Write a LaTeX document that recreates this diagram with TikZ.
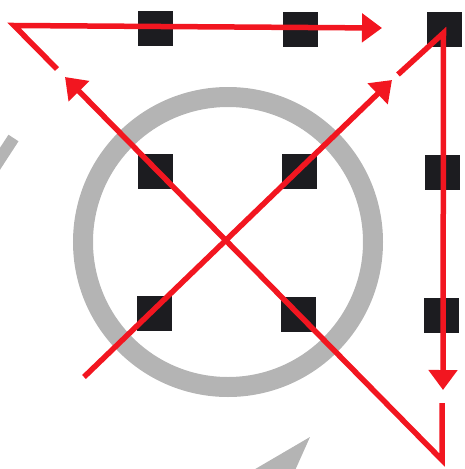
\documentclass[tikz,border=0pt]{standalone}
\usetikzlibrary{arrows.meta}
\definecolor{redline}{RGB}{242,22,32}
\definecolor{ringgray}{RGB}{180,180,180}
\definecolor{sqblack}{RGB}{28,28,32}
\begin{document}
\begin{tikzpicture}[x=1pt,y=-1pt,
  dot/.style={fill=sqblack, minimum size=35pt, inner sep=0pt, draw=none},
  redpath/.style={draw=redline, line width=5.5pt, line join=miter},
  redarrow/.style={redpath, -{Triangle[length=20pt,width=28pt]}},
  ring/.style={draw=ringgray, line width=20pt},
  ghost/.style={fill=ringgray, draw=none}]
\useasboundingbox (0,0) rectangle (464,469);
\clip (0,0) rectangle (464,469);
% gray ring and gray fragments
\draw[ring] (228,242) circle[radius=145];
\draw[ringgray, line width=12pt] (-6,168) -- (13.5,138);
\fill[ghost] (310,437) -- (245,475) -- (293,475) -- cycle;
% squares
\node[dot] (q11) at (155,28) {};
\node[dot] (q12) at (300,29) {};
\node[dot] (q13) at (444,29) {};
\node[dot] (q21) at (155,171) {};
\node[dot] (q22) at (299,171) {};
\node[dot] (q23) at (442,172) {};
\node[dot] (q31) at (154,313) {};
\node[dot] (q32) at (298,314) {};
\node[dot] (q33) at (441,315) {};
% red path points
\coordinate (s1) at (84,377);
\coordinate (t1) at (392,80);
\coordinate (g1) at (398,74.5);
\coordinate (c1) at (443.5,33);
\coordinate (t2) at (443,390);
\coordinate (g2) at (442,403);
\coordinate (c2) at (442,460);
\coordinate (t3) at (65,77);
\coordinate (g3) at (57,69);
\coordinate (c3) at (14,25.5);
\coordinate (t4) at (382,28);
\draw[redarrow] (s1) -- (t1);
\draw[redarrow] (g1) -- (c1) -- (t2);
\draw[redarrow] (g2) -- (c2) -- (t3);
\draw[redarrow] (g3) -- (c3) -- (t4);
\end{tikzpicture}
\end{document}
